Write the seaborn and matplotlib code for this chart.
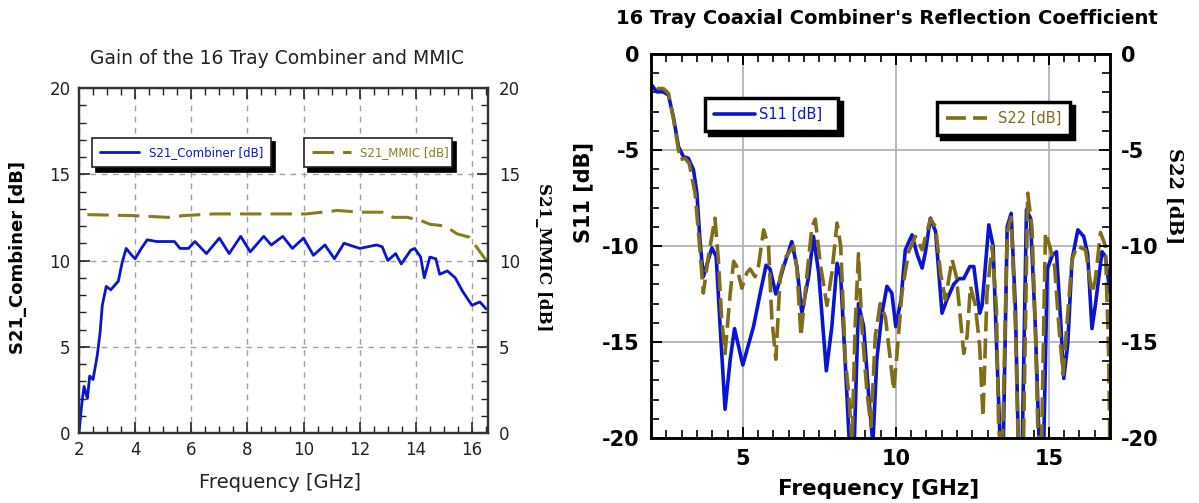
import pandas as pd
import matplotlib
matplotlib.use("Agg")
import matplotlib.pyplot as plt
import seaborn as sns
from matplotlib.ticker import MultipleLocator

# ---- left chart: gain of the combiner and the MMIC ----
comb_freq = [2.0, 2.1, 2.18, 2.3, 2.38, 2.5, 2.65, 2.75, 2.83, 2.97, 3.13, 3.4, 3.54, 3.68,
             3.88, 4.0, 4.22, 4.43, 4.77, 5.04, 5.4, 5.6, 5.9, 6.13, 6.54, 7.0, 7.35, 7.76,
             8.1, 8.58, 8.85, 9.26, 9.6, 10.0, 10.35, 10.76, 11.1, 11.44, 12.0, 12.6, 12.8,
             13.0, 13.28, 13.48, 13.82, 13.96, 14.17, 14.3, 14.5, 14.71, 14.85, 15.12, 15.4,
             15.67, 16.0, 16.28, 16.5]
comb_gain = [0.0, 1.7, 2.7, 2.0, 3.3, 3.1, 4.5, 5.8, 7.4, 8.5, 8.3, 8.8, 9.9, 10.7,
             10.3, 10.1, 10.7, 11.2, 11.1, 11.1, 11.1, 10.7, 10.7, 11.1, 10.4, 11.3, 10.4, 11.4,
             10.5, 11.4, 10.9, 11.4, 10.7, 11.3, 10.3, 10.9, 10.1, 11.0, 10.7, 10.9, 10.8,
             10.0, 10.4, 9.8, 10.6, 10.7, 10.2, 9.0, 10.2, 10.1, 9.2, 9.4, 9.0,
             8.2, 7.4, 7.6, 7.2]
mmic_freq = [2.3, 3.95, 5.17, 5.7, 6.8, 8.7, 10.1, 11.2, 12.0, 12.8, 13.2, 13.7, 14.2, 14.5,
             15.05, 15.46, 15.9, 16.2, 16.55]
mmic_gain = [12.66, 12.6, 12.5, 12.6, 12.7, 12.7, 12.7, 12.9, 12.8, 12.8, 12.5, 12.5, 12.3, 12.1,
             12.0, 11.55, 11.35, 10.7, 9.9]

# ---- right chart: reflection coefficients ----
s11_freq = [2.0, 2.19, 2.4, 2.57, 2.73, 2.9, 3.06, 3.22, 3.39, 3.5, 3.6, 3.71, 3.84, 3.99,
            4.13, 4.26, 4.42, 4.59, 4.73, 5.0, 5.35, 5.57, 5.76, 5.89, 6.08, 6.33, 6.6, 6.77,
            6.93, 7.15, 7.31, 7.48, 7.73, 7.91, 8.08, 8.2, 8.4, 8.52, 8.62, 8.78, 8.95, 9.11,
            9.25, 9.38, 9.55, 9.71, 9.87, 10.0, 10.17, 10.31, 10.53, 10.69, 10.86, 10.97, 11.13,
            11.3, 11.51, 11.67, 11.89, 12.06, 12.22, 12.42, 12.55, 12.74, 12.82, 13.04, 13.18,
            13.31, 13.44, 13.5, 13.64, 13.77, 13.91, 14.02, 14.12, 14.27, 14.4, 14.56, 14.71,
            14.82, 14.95, 15.11, 15.25, 15.38, 15.49, 15.62, 15.76, 15.95, 16.14, 16.27, 16.41,
            16.52, 16.74, 16.85, 17.0]
s11_db = [-1.57, -1.97, -1.97, -2.14, -3.27, -4.83, -5.35, -5.43, -6.04, -7.25, -9.68, -11.6, -10.9, -10.1,
          -10.55, -14.2, -18.5, -15.9, -14.3, -16.2, -14.2, -12.45, -11.0, -11.2, -12.5, -11.1, -9.77, -11.1,
          -13.5, -11.6, -9.5, -11.4, -16.5, -14.2, -10.9, -11.6, -17.7, -21.5, -21.5, -13.0, -14.2, -17.7,
          -20.3, -15.9, -13.5, -12.1, -12.45, -14.2, -12.8, -10.2, -9.42, -10.4, -11.15, -10.3, -8.55,
          -9.25, -13.5, -12.8, -12.0, -11.7, -11.7, -11.07, -11.07, -13.5, -13.1, -8.9, -10.0,
          -15.9, -21.5, -21.5, -9.0, -8.3, -13.3, -21.5, -21.5, -8.1, -8.55, -14.2, -21.5,
          -21.5, -11.2, -10.5, -10.3, -13.7, -16.9, -15.1, -10.7, -9.16, -9.5, -10.4, -14.3,
          -13.1, -10.3, -10.55, -12.45]
s22_freq = [2.19, 2.4, 2.57, 2.73, 2.95, 3.11, 3.25, 3.44, 3.6, 3.71, 3.88, 4.09, 4.2, 4.31,
            4.42, 4.59, 4.7, 4.8, 4.97, 5.13, 5.24, 5.4, 5.51, 5.68, 5.84, 5.95, 6.08, 6.22,
            6.39, 6.66, 6.77, 6.9, 7.07, 7.26, 7.37, 7.53, 7.75, 7.91, 8.08, 8.2, 8.35, 8.46,
            8.57, 8.67, 8.78, 8.89, 9.06, 9.19, 9.33, 9.49, 9.66, 9.82, 9.93, 10.04, 10.2,
            10.42, 10.64, 10.86, 11.13, 11.3, 11.46, 11.62, 11.84, 11.98, 12.22, 12.33, 12.44,
            12.6, 12.74, 12.85, 12.98, 13.15, 13.29, 13.36, 13.47, 13.64, 13.77, 13.91, 14.02,
            14.16, 14.31, 14.45, 14.56, 14.64, 14.75, 14.89, 15.03, 15.19, 15.33, 15.47, 15.62,
            15.76, 15.93, 16.2, 16.41, 16.52, 16.69, 16.85, 16.96, 17.0]
s22_db = [-1.8, -1.8, -2.05, -3.35, -5.5, -5.43, -5.7, -7.25, -10.2, -12.45, -10.5, -8.55, -10.7, -13.8,
          -15.6, -12.45, -10.8, -11.07, -12.2, -11.4, -11.2, -11.6, -11.07, -9.16, -10.0, -13.8, -15.9, -11.6,
          -10.6, -10.0, -11.2, -14.7, -11.9, -9.0, -8.6, -10.9, -13.1, -11.4, -8.8, -10.0, -15.9, -17.65,
          -20.3, -14.2, -10.4, -14.2, -17.65, -19.4, -14.7, -13.0, -13.7, -15.9, -17.5, -15.6, -12.45,
          -10.3, -9.5, -10.2, -8.6, -9.0, -11.4, -12.8, -10.7, -11.6, -15.6, -14.7, -12.1,
          -13.1, -15.2, -18.9, -12.45, -10.0, -13.3, -19.4, -21.5, -9.3, -8.5, -14.2, -21.5,
          -21.5, -7.25, -9.0, -14.2, -19.4, -21.5, -9.3, -10.0, -11.07, -14.2, -16.7, -13.5,
          -10.7, -10.0, -10.2, -12.45, -11.76, -9.3, -10.0, -15.9, -21.5]

BLUE = "#0a14d2"
OLIVE = "#806d18"
OLIVE_L = "#8a7c1e"

sns.set_style("white")
plt.rcParams["font.family"] = ["DejaVu Sans"]
plt.rcParams["axes.unicode_minus"] = False
plt.rcParams["text.color"] = "black"
plt.rcParams["axes.labelcolor"] = "black"

W, H = 1199, 503
fig = plt.figure(figsize=(W / 100, H / 100), dpi=100)


def px_axes(x0, y0, x1, y1):
    return fig.add_axes([x0 / W, 1 - y1 / H, (x1 - x0) / W, (y1 - y0) / H])


# ======================= left chart =======================
ax1 = px_axes(79, 88, 488, 433)
ax1b = ax1.twinx()

comb = pd.DataFrame({"freq": comb_freq, "gain": comb_gain})
mmic = pd.DataFrame({"freq": mmic_freq, "gain": mmic_gain})
sns.lineplot(data=comb, x="freq", y="gain", ax=ax1, color=BLUE, lw=2.0,
             estimator=None, label="S21_Combiner [dB]", legend=False)
sns.lineplot(data=mmic, x="freq", y="gain", ax=ax1, color=OLIVE_L, lw=2.2,
             estimator=None, label="S21_MMIC [dB]", legend=False)
ax1.lines[1].set_dashes([7, 3])

for a in (ax1, ax1b):
    a.set_xlim(2, 16.57)
    a.set_ylim(0, 20)
    a.yaxis.set_major_locator(MultipleLocator(5))
    a.yaxis.set_minor_locator(MultipleLocator(1))
ax1.xaxis.set_major_locator(MultipleLocator(2))
ax1.xaxis.set_minor_locator(MultipleLocator(0.5))
ax1.grid(True, which="major", ls=(0, (4, 4)), color="#a0a0a0", lw=1.0)
ax1.set_xlabel("")
ax1.set_ylabel("")
ax1.tick_params(which="both", direction="in", top=True, bottom=True, left=True, right=False,
                colors="#222222", labelsize=12, pad=6)
ax1.tick_params(which="major", length=8, width=1.2)
ax1.tick_params(which="minor", length=5, width=1.0)
ax1b.tick_params(which="both", direction="in", right=True, colors="#222222", labelsize=12, pad=8)
ax1b.tick_params(which="major", length=8, width=1.2)
ax1b.tick_params(which="minor", length=5, width=1.0)
for a in (ax1, ax1b):
    for s in a.spines.values():
        s.set_color("#333333")
        s.set_linewidth(1.6)

ax1.set_ylabel("S21_Combiner [dB]", fontsize=13, fontweight="bold")
ax1.yaxis.set_label_coords(-0.127, 0.51)
ax1b.set_ylabel("S21_MMIC [dB]", fontsize=12, fontweight="bold", family="DejaVu Serif",
                rotation=270, va="center")
ax1b.yaxis.set_label_coords(1.135, 0.51)

shadow = {"ox": 3, "oy": -3, "color": "black", "alpha": 1.0}
h1, h2 = ax1.lines[0], ax1.lines[1]
leg = ax1.legend(handles=[h1], loc="center", bbox_to_anchor=(0.017, 0.77, 0.467, 0.085),
                 mode="expand", fontsize=8.5, labelcolor=BLUE, frameon=True, fancybox=False,
                 edgecolor="#222222", shadow=shadow, handlelength=3.3, borderpad=0.7)
leg.get_frame().set_linewidth(1.2)
ax1.add_artist(leg)
leg = ax1.legend(handles=[h2], loc="center", bbox_to_anchor=(0.535, 0.77, 0.392, 0.085),
                 mode="expand", fontsize=8.5, labelcolor=OLIVE_L, frameon=True, fancybox=False,
                 edgecolor="#222222", shadow=shadow, handlelength=3.3, borderpad=0.7)
leg.get_frame().set_linewidth(1.2)

fig.text(277 / W, 1 - 58 / H, "Gain of the 16 Tray Combiner and MMIC", ha="center", va="center",
         fontsize=13.5, color="#222222")
fig.text(280 / W, 1 - 482 / H, "Frequency [GHz]", ha="center", va="center",
         fontsize=14, color="#222222")

# ======================= right chart =======================
ax2 = px_axes(651, 54, 1110, 438)
ax2b = ax2.twinx()

s11 = pd.DataFrame({"freq": s11_freq, "db": s11_db})
s22 = pd.DataFrame({"freq": s22_freq, "db": s22_db})
sns.lineplot(data=s11, x="freq", y="db", ax=ax2, color=BLUE, lw=2.6,
             estimator=None, label="S11 [dB]", legend=False)
sns.lineplot(data=s22, x="freq", y="db", ax=ax2, color=OLIVE, lw=2.6,
             estimator=None, label="S22 [dB]", legend=False)
ax2.lines[1].set_dashes([5.5, 2])

for a in (ax2, ax2b):
    a.set_xlim(2, 17)
    a.set_ylim(-20, 0)
    a.yaxis.set_major_locator(MultipleLocator(5))
    a.yaxis.set_minor_locator(MultipleLocator(1))
ax2.xaxis.set_major_locator(MultipleLocator(5))
ax2.xaxis.set_minor_locator(MultipleLocator(0.5))
ax2.grid(True, which="major", ls="-", color="#b4b4b4", lw=1.3)
ax2.set_xlabel("")
ax2.set_ylabel("")
ax2.tick_params(which="both", direction="in", top=True, bottom=True, left=True, right=False,
                colors="black", labelsize=15, pad=8)
ax2.tick_params(which="major", length=8, width=1.4)
ax2.tick_params(which="minor", length=6, width=1.2)
ax2b.tick_params(which="both", direction="in", right=True, colors="black", labelsize=15, pad=8)
ax2b.tick_params(which="major", length=8, width=1.4)
ax2b.tick_params(which="minor", length=6, width=1.2)
for a in (ax2, ax2b):
    for lab in a.get_xticklabels() + a.get_yticklabels():
        lab.set_fontweight("bold")
    for s in a.spines.values():
        s.set_color("black")
        s.set_linewidth(1.8)

ax2.set_ylabel("S11 [dB]", fontsize=15, fontweight="bold")
ax2.yaxis.set_label_coords(-0.126, 0.64)
ax2b.set_ylabel("S22 [dB]", fontsize=14, fontweight="bold", family="DejaVu Serif",
                rotation=270, va="center")
ax2b.yaxis.set_label_coords(1.14, 0.63)

shadow2 = {"ox": 3, "oy": -3, "color": "black", "alpha": 1.0}
g1, g2 = ax2.lines[0], ax2.lines[1]
leg = ax2.legend(handles=[g1], loc="center", bbox_to_anchor=(0.118, 0.795, 0.289, 0.095),
                 mode="expand", fontsize=10.5, labelcolor=BLUE, frameon=True, fancybox=False,
                 edgecolor="black", shadow=shadow2, handlelength=2.8, handletextpad=0.3,
                 borderpad=0.6, borderaxespad=0.0)
leg.get_frame().set_linewidth(2.5)
ax2.add_artist(leg)
leg = ax2.legend(handles=[g2], loc="center", bbox_to_anchor=(0.623, 0.785, 0.29, 0.095),
                 mode="expand", fontsize=10.5, labelcolor=OLIVE, frameon=True, fancybox=False,
                 edgecolor="black", shadow=shadow2, handlelength=2.8, handletextpad=0.8,
                 borderpad=0.6, borderaxespad=0.0)
leg.get_frame().set_linewidth(2.5)

fig.text(887 / W, 1 - 18 / H, "16 Tray Coaxial Combiner's Reflection Coefficient",
         ha="center", va="center", fontsize=14, fontweight="bold")
fig.text(879 / W, 1 - 489 / H, "Frequency [GHz]", ha="center", va="center",
         fontsize=15.5, fontweight="bold")

fig.savefig("out.png", dpi=100, facecolor="white")
